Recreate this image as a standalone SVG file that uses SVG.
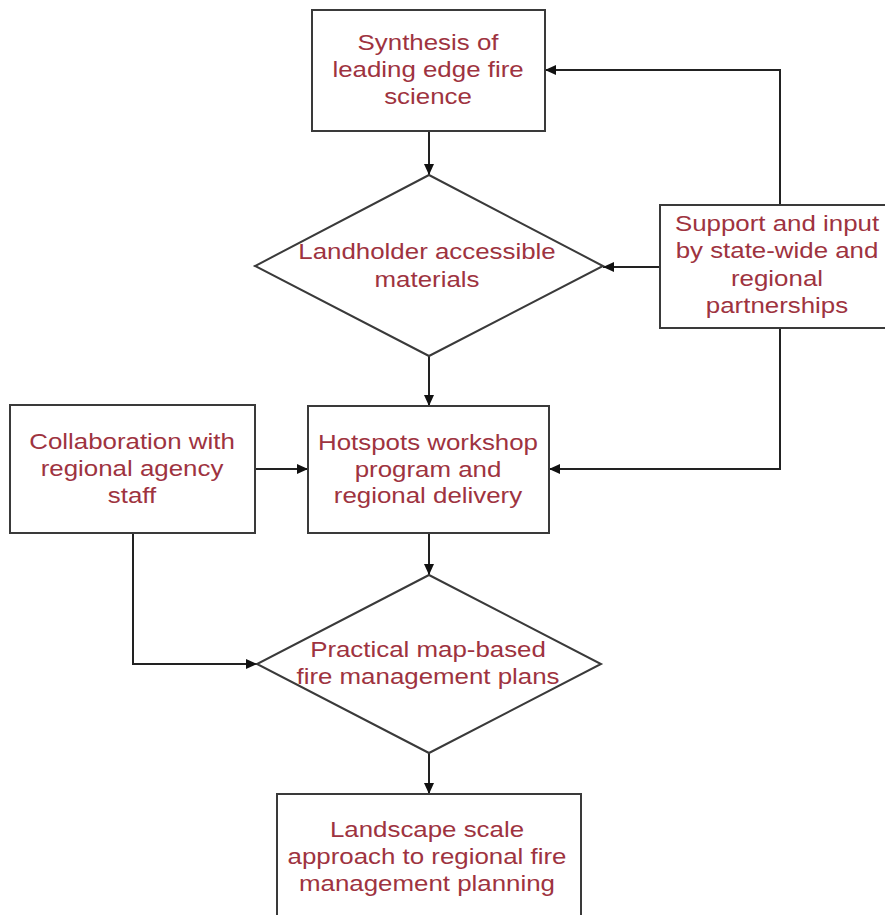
<svg xmlns="http://www.w3.org/2000/svg" width="885" height="915" viewBox="0 0 885 915">
<defs>
<marker id="ah" markerUnits="userSpaceOnUse" markerWidth="12" markerHeight="10" refX="11" refY="5" orient="auto">
<path d="M0,0 L11,5 L0,10 Z" fill="#111"/>
</marker>
<style>
.shape{fill:#fff;stroke:#3a3a3a;stroke-width:2}
.lbl{font-family:"Liberation Sans",Arial,sans-serif;font-size:22.5px;fill:#9e3340;text-anchor:middle}
.conn{fill:none;stroke:#222;stroke-width:2;marker-end:url(#ah)}
</style>
</defs>
<rect width="885" height="915" fill="#fff"/>
<g id="connectors">
<path class="conn" d="M429,131 L429,175"/>
<path class="conn" d="M780,205 L780,70 L545,70"/>
<path class="conn" d="M660,267 L603,267"/>
<path class="conn" d="M780,328 L780,469 L549,469"/>
<path class="conn" d="M429,356 L429,406"/>
<path class="conn" d="M255,469 L308,469"/>
<path class="conn" d="M429,533 L429,575"/>
<path class="conn" d="M133,533 L133,664 L257,664"/>
<path class="conn" d="M429,753 L429,794"/>
</g>
<g id="synthesis">
<rect class="shape" x="312" y="10" width="233" height="121"/>
<g transform="translate(428,0) scale(1.15,1)">
<text class="lbl" x="0" y="50">Synthesis of</text>
<text class="lbl" x="0" y="77">leading edge fire</text>
<text class="lbl" x="0" y="104">science</text>
</g>
</g>
<g id="landholder">
<polygon class="shape" points="429,175 603,266 429,356 255,266"/>
<g transform="translate(427,0) scale(1.15,1)">
<text class="lbl" x="0" y="259">Landholder accessible</text>
<text class="lbl" x="0" y="287">materials</text>
</g>
</g>
<g id="support">
<rect class="shape" x="660" y="205" width="235" height="123"/>
<g transform="translate(777,0) scale(1.15,1)">
<text class="lbl" x="0" y="231">Support and input</text>
<text class="lbl" x="0" y="258">by state-wide and</text>
<text class="lbl" x="0" y="286">regional</text>
<text class="lbl" x="0" y="313">partnerships</text>
</g>
</g>
<g id="collaboration">
<rect class="shape" x="10" y="405" width="245" height="128"/>
<g transform="translate(132,0) scale(1.15,1)">
<text class="lbl" x="0" y="449">Collaboration with</text>
<text class="lbl" x="0" y="476">regional agency</text>
<text class="lbl" x="0" y="503">staff</text>
</g>
</g>
<g id="hotspots">
<rect class="shape" x="308" y="406" width="241" height="127"/>
<g transform="translate(428,0) scale(1.15,1)">
<text class="lbl" x="0" y="450">Hotspots workshop</text>
<text class="lbl" x="0" y="477">program and</text>
<text class="lbl" x="0" y="503">regional delivery</text>
</g>
</g>
<g id="practical">
<polygon class="shape" points="429,575 601,664 429,753 257,664"/>
<g transform="translate(428,0) scale(1.15,1)">
<text class="lbl" x="0" y="657">Practical map-based</text>
<text class="lbl" x="0" y="684">fire management plans</text>
</g>
</g>
<g id="landscape">
<rect class="shape" x="277" y="794" width="304" height="140"/>
<g transform="translate(427,0) scale(1.15,1)">
<text class="lbl" x="0" y="837">Landscape scale</text>
<text class="lbl" x="0" y="864">approach to regional fire</text>
<text class="lbl" x="0" y="891">management planning</text>
</g>
</g>
</svg>
